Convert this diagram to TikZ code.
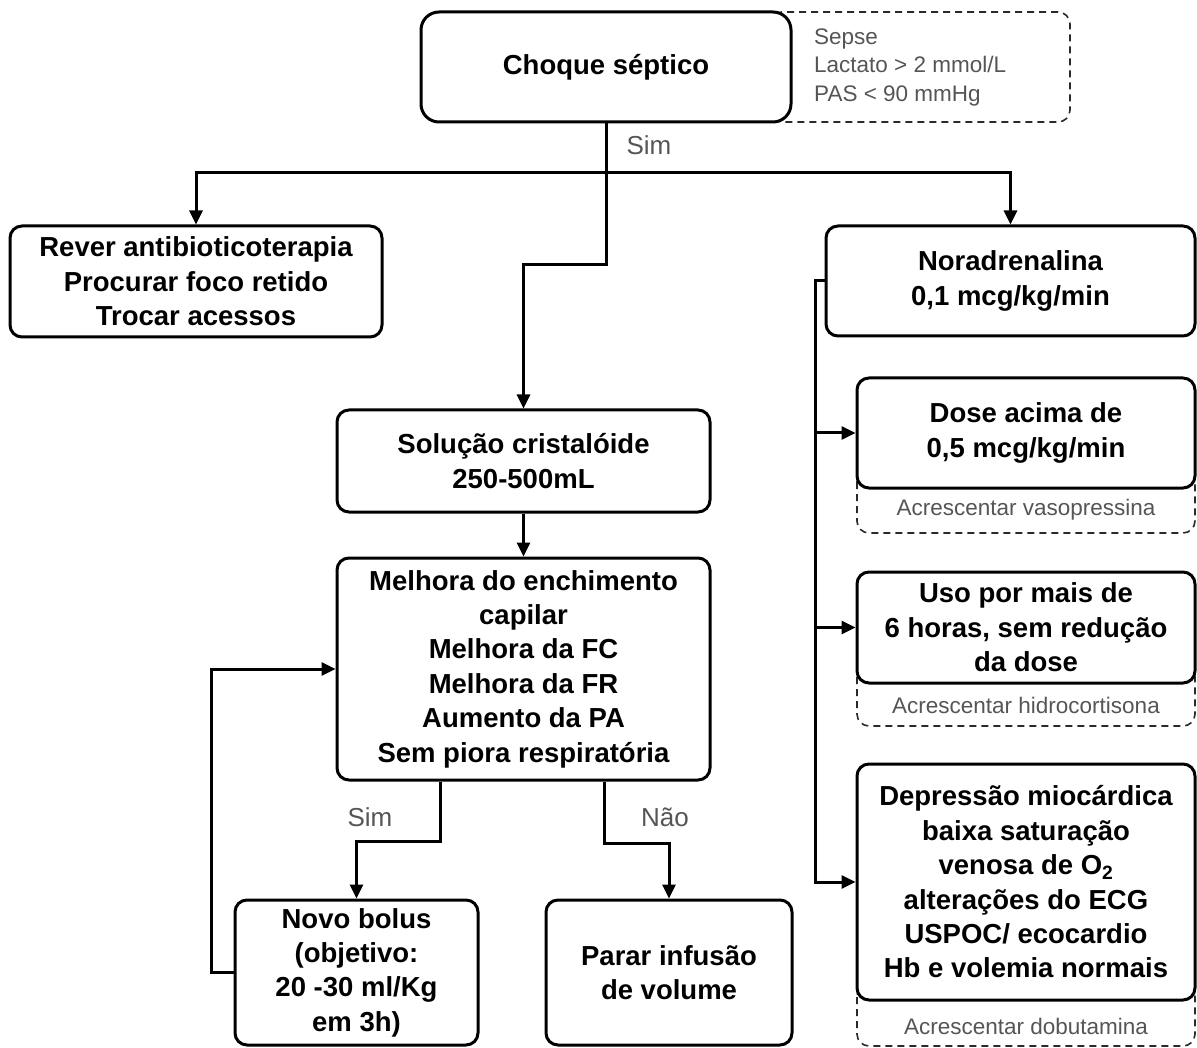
\documentclass[tikz,border=0pt]{standalone}
\usepackage{fontspec}
\setmainfont{Liberation Sans}
\usetikzlibrary{arrows.meta}
\definecolor{lblgray}{HTML}{555555}
\definecolor{dashgray}{HTML}{2A2A2A}
\begin{document}
\begin{tikzpicture}[x=1pt,y=-1pt,
  box/.style={draw, line width=3pt, rounded corners=12pt, fill=white, align=center,
    font=\fontsize{27.5}{34.4}\selectfont\bfseries, inner sep=0pt},
  note/.style={draw=dashgray, line width=1.6pt, rounded corners=12pt, dash pattern=on 7pt off 5pt},
  notetext/.style={text=lblgray, font=\fontsize{22.5}{28.5}\selectfont, inner sep=0pt},
  lbl/.style={text=lblgray, font=\fontsize{26}{30}\selectfont, inner sep=0pt},
  conn/.style={line width=3pt},
  arr/.style={line width=3pt, -{Triangle[length=14pt,width=13pt]}}
]
\useasboundingbox (0,0) rectangle (1197,1048);

% dashed notes (behind boxes)
\draw[note] (770,12) rectangle (1070,122);
\draw[note] (857,470) rectangle (1195,533);
\draw[note] (857,665) rectangle (1195,726);
\draw[note] (857,985) rectangle (1195,1046);

% boxes
\node[box, minimum width=370pt, minimum height=110pt, rounded corners=18pt] (choque) at (606,67) {Choque séptico};
\node[box, minimum width=372pt, minimum height=111pt] (rever) at (196,281.5)
  {Rever antibioticoterapia\\Procurar foco retido\\Trocar acessos};
\node[box, minimum width=369pt, minimum height=110pt] (nora) at (1010.5,281)
  {Noradrenalina\\0,1 mcg/kg/min};
\node[box, minimum width=338pt, minimum height=110pt] (dose) at (1026,433)
  {Dose acima de\\0,5 mcg/kg/min};
\node[box, minimum width=338pt, minimum height=111pt] (uso) at (1026,627.5)
  {Uso por mais de\\6 horas, sem redução\\da dose};
\node[box, minimum width=338pt, minimum height=236pt] (dep) at (1026,882)
  {Depressão miocárdica\\baixa saturação\\venosa de O\textsubscript{2}\\alterações do ECG\\USPOC/ ecocardio\\Hb e volemia normais};
\node[box, minimum width=373pt, minimum height=102pt] (sol) at (523.5,461)
  {Solução cristalóide\\250-500mL};
\node[box, minimum width=373pt, minimum height=222pt] (mel) at (523.5,669)
  {Melhora do enchimento\\capilar\\Melhora da FC\\Melhora da FR\\Aumento da PA\\Sem piora respiratória};
\node[box, minimum width=243pt, minimum height=145pt] (novo) at (356.5,972.5)
  {Novo bolus\\(objetivo:\\20 -30 ml/Kg\\em 3h)};
\node[box, minimum width=246pt, minimum height=145pt] (parar) at (669,972.5)
  {Parar infusão\\de volume};

% note texts
\node[notetext, anchor=west, align=left] (crit) at (814,67)
  {Sepse\\Lactato > 2 mmol/L\\PAS < 90 mmHg};
\node[notetext] (vaso) at (1026,510) {Acrescentar vasopressina};
\node[notetext] (hidro) at (1026,705) {Acrescentar hidrocortisona};
\node[notetext] (dobu) at (1026,1026) {Acrescentar dobutamina};

% labels
\node[lbl] (sim1) at (649,145) {Sim};
\node[lbl] (sim2) at (370,817) {Sim};
\node[lbl] (nao) at (665,817) {Não};

% connectors
\coordinate (j) at (606,173);
\coordinate (bend) at (606,265);
\coordinate (rv) at (815,281);
\coordinate (sbx) at (440,0);
\coordinate (nbx) at (604,0);

\draw[conn] (choque.south) -- (j);
\draw[arr] (j) -| (rever.north);
\draw[arr] (j) -| (nora.north);
\draw[arr] (j) -- (bend) -| (sol.north);
\draw[arr] (sol) -- (mel);
\draw[arr] (sbx |- mel.south) -- ++(0,60) -| (novo.north);
\draw[arr] (nbx |- mel.south) -- ++(0,62) -| (parar.north);
\draw[arr] (novo.west) -- ++(-22,0) |- (mel.west);

\draw[arr] (nora.west) -- (rv) |- (dep.west);
\draw[arr] (rv |- dose.west) -- (dose.west);
\draw[arr] (rv |- uso.west) -- (uso.west);
\end{tikzpicture}
\end{document}
